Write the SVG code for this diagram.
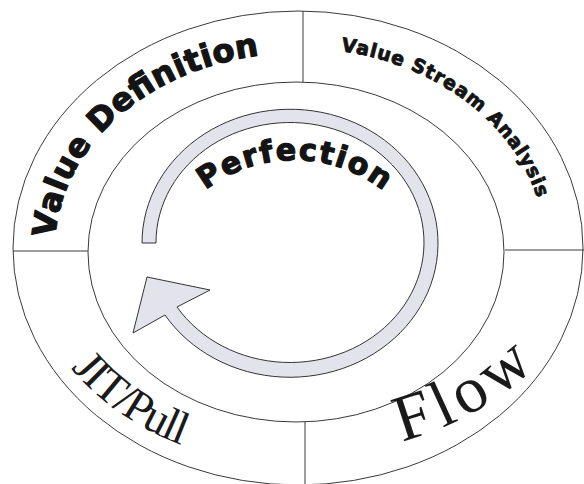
<svg xmlns="http://www.w3.org/2000/svg" xmlns:xlink="http://www.w3.org/1999/xlink" width="584" height="484" viewBox="0 0 584 484">
<style>
.ln{fill:none;stroke:#3a3a3a;stroke-width:1}
.bold{font-family:"DejaVu Sans","Liberation Sans",sans-serif;font-weight:bold;fill:#141414;stroke:#141414;stroke-width:1.3;stroke-linejoin:round}
.serif{font-family:"Liberation Serif","DejaVu Serif",serif;fill:#1a1a1a}
</style>
<defs>
<path id="pVD" d="M55.3,237.8 A243 195 0 0 1 276.8,53.7"/>
<path id="pVSA" d="M340.9,51 A247 200 0 0 1 541.2,213.3"/>
<path id="pPerf" d="M200.8,193.9 A145 145 0 0 1 387.2,193.9"/>
<path id="pJIT" d="M62.4,357 A272 218 0 0 0 250.8,462.7"/>
<path id="pFlow" d="M378.4,446.5 A300 300 0 0 0 572,323.2"/>
</defs>
<rect width="584" height="484" fill="#fff"/>
<g id="rings">
<ellipse class="ln" cx="298" cy="248" rx="285" ry="237"/>
<ellipse class="ln" cx="296" cy="252" rx="208" ry="170"/>
</g>
<g id="connectors">
<line class="ln" x1="303" y1="11" x2="303" y2="82"/>
<line class="ln" x1="305" y1="422" x2="305" y2="484"/>
<line class="ln" x1="13" y1="251" x2="88" y2="251"/>
<line class="ln" x1="505" y1="250" x2="584" y2="250"/>
</g>
<g id="cycle-arrow">
<path d="M142,243 A148 134 0 1 1 165,315 L133,333 L147,277 L210,290 L177,307 A134 120 0 1 0 156,243 Z" fill="#e3e3eb" stroke="#333" stroke-width="1"/>
</g>
<g id="value-definition">
<text class="bold" font-size="32"><textPath xlink:href="#pVD" href="#pVD" textLength="296" lengthAdjust="spacing">Value Definition</textPath></text>
</g>
<g id="value-stream-analysis">
<text class="bold" font-size="19" style="stroke-width:0.9"><textPath xlink:href="#pVSA" href="#pVSA" textLength="258" lengthAdjust="spacing">Value Stream Analysis</textPath></text>
</g>
<g id="perfection">
<text class="bold" font-size="30"><textPath xlink:href="#pPerf" href="#pPerf" startOffset="6" textLength="191" lengthAdjust="spacing">Perfection</textPath></text>
</g>
<g id="jit-pull">
<text class="serif" font-size="46"><textPath xlink:href="#pJIT" href="#pJIT" startOffset="14" textLength="136" lengthAdjust="spacing">JIT/Pull</textPath></text>
</g>
<g id="flow">
<text class="serif" font-size="66"><textPath xlink:href="#pFlow" href="#pFlow" startOffset="24" textLength="154" lengthAdjust="spacing">Flow</textPath></text>
</g>
</svg>
